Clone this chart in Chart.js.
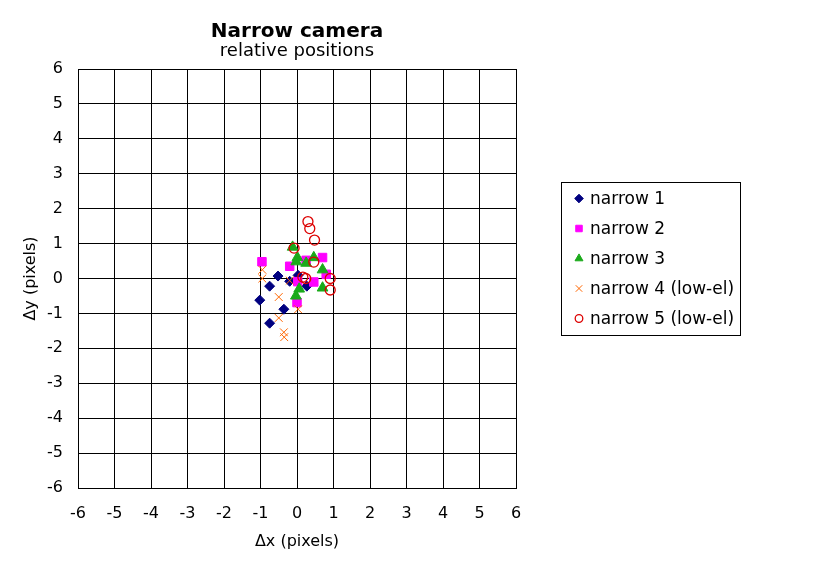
<!DOCTYPE html>
<html><head><meta charset="utf-8">
<script src="https://cdn.jsdelivr.net/npm/chart.js@4.4.0/dist/chart.umd.min.js"></script>
<style>html,body{margin:0;padding:0;background:#fff;}canvas{display:block}</style>
</head><body>
<canvas id="c" width="832" height="570"></canvas>
<script>
// ---- data ----
const titleText = 'Narrow camera';
const subtitleText = 'relative positions';
const xAxisTitle = 'Δx (pixels)';
const yAxisTitle = 'Δy (pixels)';
const seriesNames = ['narrow 1', 'narrow 2', 'narrow 3', 'narrow 4 (low-el)', 'narrow 5 (low-el)'];
const axisMin = -6, axisMax = 6;

const n1x = [-0.52, 0.03, -0.75, 0.27, -1.02, -0.36, -0.75, -0.20];
const n1y = [0.07, 0.09, -0.22, -0.22, -0.62, -0.88, -1.28, -0.08];

const n2x = [-0.96, -0.20, 0.25, 0.70, 0.80, 0.02, 0.46, 0.00];
const n2y = [0.48, 0.35, 0.52, 0.60, 0.12, -0.09, -0.10, -0.69];

const n3x = [-0.12, 0.01, -0.02, 0.25, 0.46, 0.70, 0.70, 0.06, -0.03];
const n3y = [0.90, 0.60, 0.48, 0.44, 0.60, 0.25, -0.27, -0.30, -0.50];

const n4x = [-0.95, -0.95, -0.20, -0.50, 0.03, -0.50, -0.36, -0.35];
const n4y = [0.25, 0.00, -0.06, -0.53, -0.88, -1.13, -1.54, -1.68];

const n5x = [0.30, 0.35, 0.48, -0.08, 0.46, 0.16, 0.24, 0.91, 0.91];
const n5y = [1.63, 1.43, 1.10, 0.87, 0.47, 0.04, 0.00, 0.00, -0.33];

const pts = (xs, ys) => xs.map((x, i) => ({x: x, y: ys[i]}));

const FONT = 'DejaVu Sans';

const datasets = [
  {label: seriesNames[0], data: pts(n1x, n1y), pointStyle: 'rectRot', pointRadius: 5, backgroundColor: '#000080', borderColor: '#000080', borderWidth: 1, order: 5, legR: 4.3},
  {label: seriesNames[1], data: pts(n2x, n2y), pointStyle: 'rect', pointRadius: 6, backgroundColor: '#FF00FF', borderColor: '#FF00FF', borderWidth: 1, order: 4, legR: 4.6},
  {label: seriesNames[2], data: pts(n3x, n3y), pointStyle: 'triangle', pointRadius: 6.2, backgroundColor: '#1AAA1A', borderColor: '#1AAA1A', borderWidth: 1, order: 3, legR: 4.6},
  {label: seriesNames[3], data: pts(n4x, n4y), pointStyle: 'crossRot', pointRadius: 5.5, backgroundColor: '#FF6600', borderColor: '#FF6600', borderWidth: 1, order: 2, legR: 4.6},
  {label: seriesNames[4], data: pts(n5x, n5y), pointStyle: 'circle', pointRadius: 5, backgroundColor: 'rgba(0,0,0,0)', borderColor: '#DD0000', borderWidth: 1.3, order: 1, legR: 3.8}
];

const legendPlugin = {
  id: 'boxLegend',
  afterDraw(chart) {
    const ctx = chart.ctx;
    ctx.save();
    ctx.fillStyle = '#fff';
    ctx.strokeStyle = '#000';
    ctx.lineWidth = 1;
    ctx.fillRect(561.5, 182.5, 179, 153);
    ctx.strokeRect(561.5, 182.5, 179, 153);
    ctx.font = '17px "' + FONT + '"';
    ctx.textBaseline = 'middle';
    ctx.textAlign = 'left';
    chart.data.datasets.forEach((ds, i) => {
      const y = 198.5 + i * 30;
      ctx.fillStyle = ds.backgroundColor;
      ctx.strokeStyle = ds.borderColor;
      ctx.lineWidth = ds.borderWidth;
      Chart.helpers.drawPoint(ctx, {pointStyle: ds.pointStyle, radius: ds.legR, borderWidth: ds.borderWidth, rotation: 0}, 579, y);
      ctx.fillStyle = '#000';
      ctx.fillText(ds.label, 590, y + 1);
    });
    ctx.restore();
  }
};

new Chart(document.getElementById('c'), {
  type: 'scatter',
  data: {datasets: datasets},
  options: {
    responsive: false,
    animation: false,
    devicePixelRatio: 1,
    layout: {padding: {left: 0, right: 316, top: 0, bottom: 0}},
    plugins: {
      legend: {display: false},
      tooltip: {enabled: false},
      title: {display: true, fullSize: false, text: titleText, color: '#000', font: {family: FONT, size: 20, weight: 'bold', lineHeight: 1}, padding: {top: 22, bottom: 0}},
      subtitle: {display: true, fullSize: false, text: subtitleText, color: '#000', font: {family: FONT, size: 18, weight: 'normal', lineHeight: 1}, padding: {top: 0, bottom: 9}}
    },
    scales: {
      x: {
        type: 'linear', min: axisMin, max: axisMax,
        ticks: {stepSize: 1, color: '#000', font: {family: FONT, size: 16}, padding: 16, maxRotation: 0},
        grid: {color: '#000', lineWidth: 1, drawTicks: false},
        border: {color: '#000', width: 1},
        title: {display: true, text: xAxisTitle, color: '#000', font: {family: FONT, size: 16}, padding: {top: 0, bottom: 19}},
        afterFit(s) { s.height = 82; }
      },
      y: {
        type: 'linear', min: axisMin, max: axisMax,
        ticks: {stepSize: 1, color: '#000', font: {family: FONT, size: 16}, padding: 15},
        grid: {color: '#000', lineWidth: 1, drawTicks: false},
        border: {color: '#000', width: 1},
        title: {display: true, text: yAxisTitle, color: '#000', font: {family: FONT, size: 16}, padding: {top: 21, bottom: 0}},
        afterFit(s) { s.width = 78; }
      }
    }
  },
  plugins: [legendPlugin]
});
</script>
</body></html>
